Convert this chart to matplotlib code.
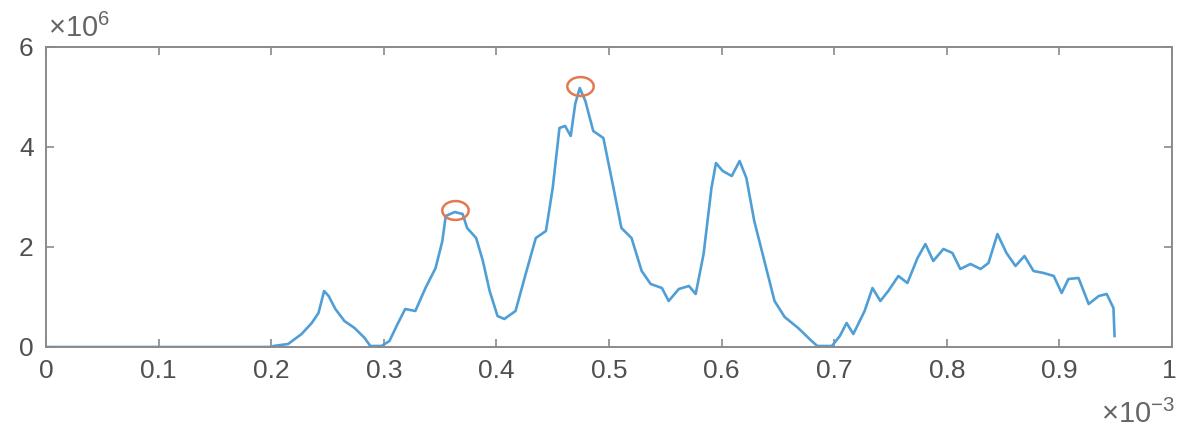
import numpy as np
import matplotlib
matplotlib.use("Agg")
import matplotlib.pyplot as plt
from matplotlib.ticker import FuncFormatter
from matplotlib.path import Path

# time in units of 1e-3, amplitude in units of 1e6
t_ms = [0, 0.2, 0.202, 0.215, 0.227, 0.236, 0.242, 0.247, 0.251, 0.257, 0.265, 0.274,
        0.283, 0.288, 0.298, 0.305, 0.312, 0.319, 0.328, 0.337, 0.346, 0.352, 0.355,
        0.363, 0.370, 0.374, 0.382, 0.388, 0.394, 0.401, 0.407, 0.417, 0.426, 0.435,
        0.444, 0.450, 0.456, 0.461, 0.466, 0.470, 0.474, 0.479, 0.486, 0.495, 0.504,
        0.511, 0.520, 0.529, 0.537, 0.547, 0.553, 0.562, 0.571, 0.577, 0.584, 0.591,
        0.595, 0.601, 0.609, 0.616, 0.622, 0.629, 0.638, 0.647, 0.656, 0.668, 0.680,
        0.685, 0.698, 0.705, 0.711, 0.717, 0.727, 0.734, 0.741, 0.748, 0.757, 0.765,
        0.774, 0.781, 0.788, 0.797, 0.805, 0.812, 0.821, 0.830, 0.837, 0.845, 0.853,
        0.861, 0.869, 0.877, 0.886, 0.895, 0.902, 0.908, 0.917, 0.926, 0.935, 0.942,
        0.948, 0.949]
amp_e6 = [0, 0, 0.02, 0.06, 0.26, 0.48, 0.68, 1.12, 1.02, 0.76, 0.52, 0.38,
          0.18, 0.02, 0.02, 0.12, 0.45, 0.76, 0.72, 1.18, 1.58, 2.12, 2.62,
          2.70, 2.66, 2.38, 2.18, 1.72, 1.12, 0.62, 0.56, 0.72, 1.46, 2.18,
          2.32, 3.18, 4.38, 4.42, 4.22, 4.86, 5.18, 4.92, 4.32, 4.18, 3.18,
          2.38, 2.18, 1.52, 1.26, 1.18, 0.92, 1.16, 1.22, 1.06, 1.86, 3.18,
          3.68, 3.52, 3.42, 3.72, 3.38, 2.52, 1.72, 0.92, 0.60, 0.38, 0.12,
          0.02, 0.02, 0.22, 0.48, 0.26, 0.72, 1.18, 0.92, 1.12, 1.42, 1.28,
          1.78, 2.06, 1.72, 1.96, 1.88, 1.56, 1.66, 1.56, 1.68, 2.26, 1.88,
          1.62, 1.82, 1.52, 1.48, 1.42, 1.08, 1.36, 1.38, 0.86, 1.02, 1.06,
          0.78, 0.22]
peak_t_ms = [0.363, 0.4745]
peak_amp_e6 = [2.74, 5.22]

x_ticks = [0, 0.1, 0.2, 0.3, 0.4, 0.5, 0.6, 0.7, 0.8, 0.9, 1.0]
y_ticks = [0, 2, 4, 6]
x_scale = 1e-3
y_scale = 1e6

plt.rcParams['font.family'] = ['Liberation Sans', 'DejaVu Sans']
plt.rcParams['mathtext.fontset'] = 'custom'
plt.rcParams['mathtext.rm'] = 'Liberation Sans'

t = np.array(t_ms) * x_scale
a = np.array(amp_e6) * y_scale

W, H = 1178, 428
fig = plt.figure(figsize=(W / 100, H / 100), dpi=100)
L, R, T, B = 46, 1172, 47, 347
ax = fig.add_axes([L / W, (H - B) / H, (R - L) / W, (B - T) / H])

ax.plot(t, a, color='#4f9fd6', lw=1.9)

th = np.linspace(0, 2 * np.pi, 80)
ell = Path(np.column_stack([1.4 * np.cos(th), np.sin(th)]))
ax.plot(np.array(peak_t_ms) * x_scale, np.array(peak_amp_e6) * y_scale,
        linestyle='none', marker=ell, ms=19, mfc='none', mec='#e2794f', mew=1.8)

ax.set_xlim(0, 1 * x_scale)
ax.set_ylim(0, 6 * y_scale)
ax.set_xticks(np.array(x_ticks) * x_scale)
ax.set_yticks(np.array(y_ticks) * y_scale)
ax.xaxis.set_major_formatter(FuncFormatter(lambda v, p: f"{v / x_scale:g}"))
ax.yaxis.set_major_formatter(FuncFormatter(lambda v, p: f"{v / y_scale:g}"))

ax.tick_params(direction='in', length=6, width=1.2, colors='#8a8a8a',
               labelcolor='#505050', labelsize=19, top=True, right=True)
ax.tick_params(axis='x', pad=9)
ax.tick_params(axis='y', pad=9)
for s in ax.spines.values():
    s.set_color('#8a8a8a')
    s.set_linewidth(1.4)

fig.canvas.draw()
last = ax.get_xticklabels()[-1]
last.set_horizontalalignment('right')
last.set_x(last.get_position()[0])
import matplotlib.transforms as mtransforms
last.set_transform(last.get_transform() + mtransforms.ScaledTranslation(5 / 100, 0, fig.dpi_scale_trans))

fig.text(1175 / W, (H - 423) / H, r'$\times10^{-3}$', ha='right', va='baseline',
         fontsize=21, color='#666666')
fig.text(48 / W, (H - 37) / H, r'$\times10^{6}$', ha='left', va='baseline',
         fontsize=21, color='#666666')

fig.savefig('out.png', dpi=100, facecolor='white')
